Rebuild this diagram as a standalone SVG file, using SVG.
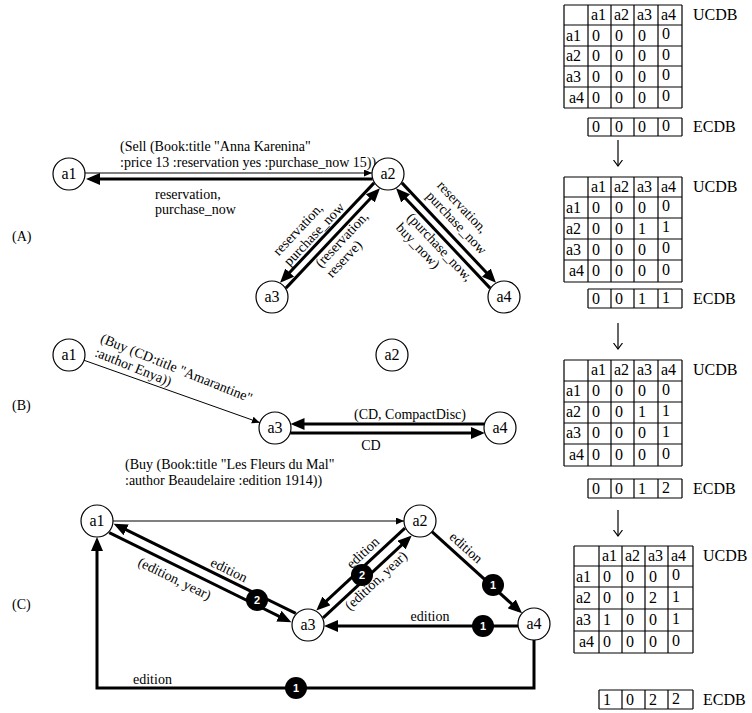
<svg xmlns="http://www.w3.org/2000/svg" width="752" height="713" viewBox="0 0 752 713">
<defs>
<marker id="big" markerUnits="userSpaceOnUse" markerWidth="15" markerHeight="13" refX="10" refY="6" orient="auto"><path d="M0,0 L14,6 L0,12 z" fill="#000"/></marker>
<marker id="small" markerUnits="userSpaceOnUse" markerWidth="9" markerHeight="8" refX="8" refY="3.5" orient="auto"><path d="M0,0 L8,3.5 L0,7 z" fill="#000"/></marker>
<marker id="vee" markerUnits="userSpaceOnUse" markerWidth="8" markerHeight="10" refX="6" refY="4.5" orient="auto"><path d="M0,0 L6,4.5 L0,9" fill="none" stroke="#000" stroke-width="1.2"/></marker>
</defs>
<style>
text{font-family:"Liberation Serif","Times New Roman",serif;fill:#000}
.n circle{fill:#fff;stroke:#000;stroke-width:1.2}
.n text{font-size:16px;text-anchor:middle}
.l{font-size:14px}
.m{text-anchor:middle}
.thick{stroke:#000;stroke-width:3;fill:none;marker-end:url(#big)}
.thin{stroke:#000;stroke-width:1;fill:none;marker-end:url(#small)}
.b circle{fill:#000}
.b text{fill:#fff;font-size:11px;font-weight:bold;text-anchor:middle;font-family:"Liberation Sans",Arial,sans-serif}
.grid{stroke:#000;stroke-width:1.2;fill:none}
.t{font-size:16px}
.tarrow{stroke:#000;stroke-width:1.2;fill:none;marker-end:url(#vee)}
</style>

<!-- Connectors -->
<g id="connectors">
  <!-- (A) -->
  <path class="thin" d="M85,173 L372,173"/>
  <path class="thick" d="M372.5,179 L90,179"/>
  <path class="thick" d="M374.1,182.9 L282.8,279.8"/>
  <path class="thick" d="M285.9,288.1 L377.2,191.2"/>
  <path class="thick" d="M401.9,182.9 L493.2,279.8"/>
  <path class="thick" d="M490.1,288.1 L398.8,191.2"/>
  <!-- (B) -->
  <path class="thin" d="M84.1,360.3 L259.9,422.7"/>
  <path class="thick" d="M484.5,424 L294.5,424"/>
  <path class="thick" d="M290.2,433 L480.8,433"/>
  <!-- (C) -->
  <path class="thin" d="M113,521 L404,521"/>
  <path class="thick" d="M295.8,613.4 L117.2,525.4"/>
  <path class="thick" d="M109.2,532.6 L287.8,620.6"/>
  <path class="thick" d="M404.9,528.2 L319.2,607.7"/>
  <path class="thick" d="M323.1,617.8 L408.8,538.3"/>
  <path class="thick" d="M431.9,531.7 L519.1,610.6"/>
  <path class="thick" d="M518,626 L328,626"/>
  <path class="thick" d="M534,640 L534,688 L97,688 L97,541"/>
  <g class="b"><circle cx="257" cy="600" r="11"/><text x="257" y="604">2</text></g>
  <g class="b"><circle cx="362" cy="575" r="11"/><text x="362" y="579">2</text></g>
  <g class="b"><circle cx="493" cy="585" r="11"/><text x="493" y="589">1</text></g>
  <g class="b"><circle cx="483" cy="626" r="11"/><text x="483" y="630">1</text></g>
  <g class="b"><circle cx="296" cy="688" r="11"/><text x="296" y="692">1</text></g>
  <!-- table arrows -->
  <path class="tarrow" d="M618,140 L618,166"/>
  <path class="tarrow" d="M618,323 L618,349"/>
  <path class="tarrow" d="M618,510 L618,536"/>
</g>

<!-- Edge labels -->
<g id="labels" class="l">
  <text x="12" y="241">(A)</text>
  <text x="12" y="410">(B)</text>
  <text x="12" y="609">(C)</text>
  <text x="120" y="151">(Sell (Book:title "Anna Karenina"</text>
  <text x="120" y="167">:price 13 :reservation yes :purchase_now 15))</text>
  <text x="155" y="199">reservation,</text>
  <text x="155" y="214">purchase_now</text>
  <text transform="translate(278.7,256.5) rotate(-46.7)"><tspan x="0" y="0">reservation,</tspan><tspan x="0" y="15">purchase_now</tspan></text>
  <text transform="translate(321,268.2) rotate(-46.7)"><tspan x="0" y="0">(reservation,</tspan><tspan x="0" y="15">reserve)</tspan></text>
  <text transform="translate(436.4,186.1) rotate(46.7)"><tspan x="0" y="0">reservation,</tspan><tspan x="0" y="15">purchase_now</tspan></text>
  <text transform="translate(406.2,218) rotate(46.7)"><tspan x="0" y="0">(purchase_now,</tspan><tspan x="0" y="15">buy_now)</tspan></text>

  <text transform="translate(99.6,342) rotate(22)"><tspan x="0" y="0">(Buy (CD:title "Amarantine"</tspan><tspan x="0" y="15">:author Enya))</tspan></text>
  <text class="m" x="410" y="419">(CD, CompactDisc)</text>
  <text class="m" x="371" y="450">CD</text>

  <text x="125" y="469">(Buy (Book:title "Les Fleurs du Mal"</text>
  <text x="125" y="485">:author Beaudelaire :edition 1914))</text>
  <text class="m" transform="translate(227,574) rotate(26.2)">edition</text>
  <text class="m" transform="translate(172.5,582.7) rotate(26.2)">(edition, year)</text>
  <text class="m" transform="translate(366,556) rotate(-42.9)">edition</text>
  <text class="m" transform="translate(379,584) rotate(-42.9)">(edition, year)</text>
  <text class="m" transform="translate(463,551) rotate(42)">edition</text>
  <text class="m" x="430" y="621">edition</text>
  <text x="133" y="684">edition</text>
</g>

<!-- Nodes (A) -->
<g id="A_a1" class="n"><circle cx="69" cy="174" r="16"/><text x="69" y="179">a1</text></g>
<g id="A_a2" class="n"><circle cx="388" cy="174" r="16"/><text x="388" y="179">a2</text></g>
<g id="A_a3" class="n"><circle cx="272" cy="297" r="16"/><text x="272" y="302">a3</text></g>
<g id="A_a4" class="n"><circle cx="504" cy="297" r="16"/><text x="504" y="302">a4</text></g>
<!-- Nodes (B) -->
<g id="B_a1" class="n"><circle cx="69" cy="355" r="16"/><text x="69" y="360">a1</text></g>
<g id="B_a2" class="n"><circle cx="392" cy="355" r="16"/><text x="392" y="360">a2</text></g>
<g id="B_a3" class="n"><circle cx="275" cy="428" r="16"/><text x="275" y="433">a3</text></g>
<g id="B_a4" class="n"><circle cx="500" cy="428" r="16"/><text x="500" y="433">a4</text></g>
<!-- Nodes (C) -->
<g id="C_a1" class="n"><circle cx="97" cy="521" r="16"/><text x="97" y="526">a1</text></g>
<g id="C_a2" class="n"><circle cx="420" cy="521" r="16"/><text x="420" y="526">a2</text></g>
<g id="C_a3" class="n"><circle cx="308" cy="625" r="16"/><text x="308" y="630">a3</text></g>
<g id="C_a4" class="n"><circle cx="534" cy="624" r="16"/><text x="534" y="629">a4</text></g>

<!-- Table 1 -->
<g id="table1" class="t">
  <path class="grid" d="M564,5H682M564,25H682M564,46H682M564,66H682M564,87H682M564,108H682M564,5V108M588,5V108M611,5V108M634,5V108M658,5V108M682,5V108"/>
  <path class="grid" d="M588,118H682M588,136H682M588,118V136M611,118V136M634,118V136M658,118V136M682,118V136"/>
  <text x="591" y="20">a1</text><text x="614" y="20">a2</text><text x="637" y="20">a3</text><text x="661" y="20">a4</text>
  <text x="693" y="20">UCDB</text>
  <text x="566" y="40.5">a1</text><text x="592" y="40.5">0</text><text x="615" y="40.5">0</text><text x="638" y="40.5">0</text><text x="662" y="39">0</text>
  <text x="566" y="61">a2</text><text x="592" y="61">0</text><text x="615" y="61">0</text><text x="638" y="61">0</text><text x="662" y="59.5">0</text>
  <text x="566" y="81.5">a3</text><text x="592" y="81.5">0</text><text x="615" y="81.5">0</text><text x="638" y="81.5">0</text><text x="662" y="80">0</text>
  <text x="569" y="102.5">a4</text><text x="592" y="102.5">0</text><text x="615" y="102.5">0</text><text x="638" y="102.5">0</text><text x="662" y="101">0</text>
  <text x="592" y="132">0</text><text x="615" y="132">0</text><text x="638" y="132">0</text><text x="662" y="131">0</text>
  <text x="693" y="132">ECDB</text>
</g>

<!-- Table 2 -->
<g id="table2" class="t">
  <path class="grid" d="M564,177H682M564,197H682M564,218H682M564,239H682M564,260H682M564,282H682M564,177V282M588,177V282M611,177V282M634,177V282M658,177V282M682,177V282"/>
  <path class="grid" d="M588,289H682M588,308H682M588,289V308M611,289V308M634,289V308M658,289V308M682,289V308"/>
  <text x="591" y="192">a1</text><text x="614" y="192">a2</text><text x="637" y="192">a3</text><text x="661" y="192">a4</text>
  <text x="693" y="192">UCDB</text>
  <text x="566" y="212.5">a1</text><text x="592" y="212.5">0</text><text x="615" y="212.5">0</text><text x="638" y="212.5">0</text><text x="662" y="211">0</text>
  <text x="566" y="233.5">a2</text><text x="592" y="233.5">0</text><text x="615" y="233.5">0</text><text x="638" y="233.5">1</text><text x="662" y="232">1</text>
  <text x="566" y="254.5">a3</text><text x="592" y="254.5">0</text><text x="615" y="254.5">0</text><text x="638" y="254.5">0</text><text x="662" y="253">0</text>
  <text x="569" y="276">a4</text><text x="592" y="276">0</text><text x="615" y="276">0</text><text x="638" y="276">0</text><text x="662" y="274.5">0</text>
  <text x="592" y="303.5">0</text><text x="615" y="303.5">0</text><text x="638" y="303.5">1</text><text x="662" y="302.5">1</text>
  <text x="693" y="303.5">ECDB</text>
</g>

<!-- Table 3 -->
<g id="table3" class="t">
  <path class="grid" d="M564,360H682M564,381H682M564,402H682M564,423H682M564,444H682M564,466H682M564,360V466M588,360V466M611,360V466M634,360V466M658,360V466M682,360V466"/>
  <path class="grid" d="M588,479H682M588,498H682M588,479V498M611,479V498M634,479V498M658,479V498M682,479V498"/>
  <text x="591" y="375">a1</text><text x="614" y="375">a2</text><text x="637" y="375">a3</text><text x="661" y="375">a4</text>
  <text x="693" y="375">UCDB</text>
  <text x="566" y="396">a1</text><text x="592" y="396">0</text><text x="615" y="396">0</text><text x="638" y="396">0</text><text x="662" y="394.5">0</text>
  <text x="566" y="417">a2</text><text x="592" y="417">0</text><text x="615" y="417">0</text><text x="638" y="417">1</text><text x="662" y="415.5">1</text>
  <text x="566" y="438">a3</text><text x="592" y="438">0</text><text x="615" y="438">0</text><text x="638" y="438">0</text><text x="662" y="436.5">1</text>
  <text x="569" y="460">a4</text><text x="592" y="460">0</text><text x="615" y="460">0</text><text x="638" y="460">0</text><text x="662" y="458.5">0</text>
  <text x="592" y="493.5">0</text><text x="615" y="493.5">0</text><text x="638" y="493.5">1</text><text x="662" y="492.5">2</text>
  <text x="693" y="493.5">ECDB</text>
</g>

<!-- Table 4 -->
<g id="table4" class="t">
  <path class="grid" d="M574,546H693M574,566H693M574,587H693M574,609H693M574,631H693M574,653H693M574,546V653M599,546V653M622,546V653M645,546V653M668,546V653M693,546V653"/>
  <path class="grid" d="M599,690H693M599,709H693M599,690V709M622,690V709M645,690V709M668,690V709M693,690V709"/>
  <text x="602" y="561">a1</text><text x="625" y="561">a2</text><text x="648" y="561">a3</text><text x="671" y="561">a4</text>
  <text x="703" y="561">UCDB</text>
  <text x="576" y="581.5">a1</text><text x="603" y="581.5">0</text><text x="626" y="581.5">0</text><text x="649" y="581.5">0</text><text x="672" y="580">0</text>
  <text x="576" y="603">a2</text><text x="603" y="603">0</text><text x="626" y="603">0</text><text x="649" y="603">2</text><text x="672" y="601.5">1</text>
  <text x="576" y="625">a3</text><text x="603" y="625">1</text><text x="626" y="625">0</text><text x="649" y="625">0</text><text x="672" y="623.5">1</text>
  <text x="579" y="647">a4</text><text x="603" y="647">0</text><text x="626" y="647">0</text><text x="649" y="647">0</text><text x="672" y="645.5">0</text>
  <text x="603" y="704.5">1</text><text x="626" y="704.5">0</text><text x="649" y="704.5">2</text><text x="672" y="703.5">2</text>
  <text x="703" y="704.5">ECDB</text>
</g>
</svg>
